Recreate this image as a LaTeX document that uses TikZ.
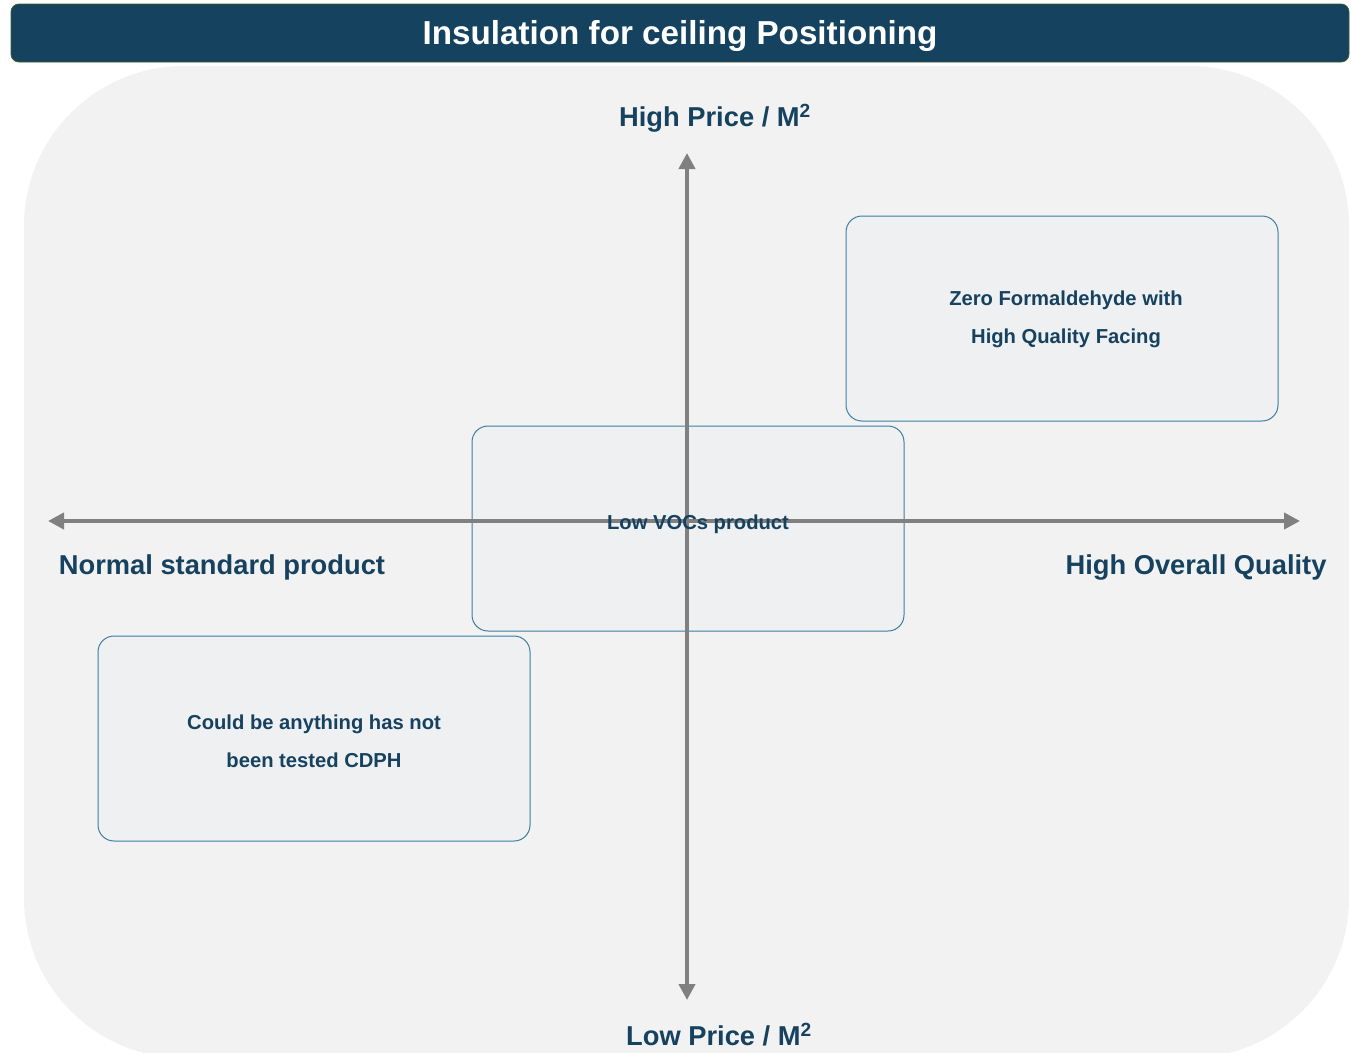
\documentclass[tikz,border=0pt]{standalone}
\usepackage{fontspec}
\setmainfont{Liberation Sans}
\usetikzlibrary{arrows.meta}
\definecolor{titlebg}{HTML}{15425F}
\definecolor{titleedge}{HTML}{3E5A2E}
\definecolor{panelbg}{HTML}{F2F2F2}
\definecolor{boxfill}{HTML}{EEF0F2}
\definecolor{boxedge}{HTML}{3C7EA0}
\definecolor{ink}{HTML}{16415F}
\definecolor{axisgray}{HTML}{808080}
\tikzset{
  qbox/.style={draw=boxedge, line width=1pt, fill=boxfill, rounded corners=16pt},
  qtext/.style={text=ink, font=\bfseries\fontsize{20.2}{38}\selectfont, align=center, inner sep=0pt},
  axislabel/.style={text=ink, font=\bfseries\fontsize{27.3}{32}\selectfont, inner sep=0pt},
  axisline/.style={draw=axisgray, line width=4pt, {Triangle[width=16pt,length=16pt]}-{Triangle[width=16pt,length=16pt]}}
}
\begin{document}
\begin{tikzpicture}[x=1pt,y=-1pt]
\useasboundingbox (0,0) rectangle (1351,1052);
% background panel
\begin{scope}
\clip (0,0) rectangle (1351,1052);
\fill[panelbg, rounded corners=160pt] (24,66) rectangle (1349,1058);
\end{scope}
% title bar
\node[draw=titleedge, line width=0.8pt, fill=titlebg, rounded corners=8pt,
      minimum width=1338pt, minimum height=58pt, inner sep=0pt] (title) at (680,33) {};
\node[text=white, font=\bfseries\fontsize{33.2}{40}\selectfont, inner sep=0pt] (titletext) at (680,36)
      {Insulation for ceiling Positioning};
% boxes
\node[qbox, minimum width=432pt, minimum height=205pt] (boxtr) at (1062,318.5) {};
\node[qbox, minimum width=432pt, minimum height=205pt] (boxc) at (688,528.5) {};
\node[qbox, minimum width=432pt, minimum height=205pt] (boxbl) at (314,738.5) {};
% axes
\coordinate (top) at (687,153);
\coordinate (bottom) at (687,1000);
\coordinate (left) at (48,521);
\coordinate (right) at (1300,521);
\draw[axisline] (bottom) -- (top);
\draw[axisline] (left) -- (right);
% axis labels
\node[axislabel] (hp) at (715,118) {High Price / M\textsuperscript{2}};
\node[axislabel] (lp) at (719,1035) {Low Price / M\textsuperscript{2}};
\node[axislabel] (ns) at (222,567) {Normal standard product};
\node[axislabel] (hq) at (1196,567) {High Overall Quality};
% box texts
\node[qtext] (ttr) at (1066,319) {Zero Formaldehyde with\\High Quality Facing};
\node[qtext] (tc) at (698,524) {Low VOCs product};
\node[qtext] (tbl) at (314,741) {Could be anything has not\\been tested CDPH};
\end{tikzpicture}
\end{document}
